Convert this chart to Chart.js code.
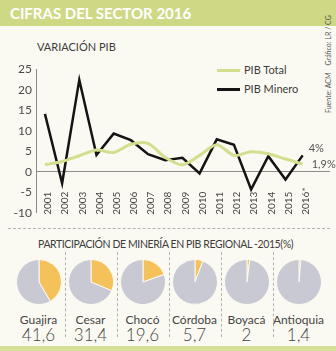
<!DOCTYPE html>
<html>
<head>
<meta charset="utf-8">
<script src="https://cdn.jsdelivr.net/npm/chart.js@4.4.1/dist/chart.umd.min.js"></script>
<style>
  body { margin: 0; width: 336px; height: 351px; background: #fbfaf2; position: relative; overflow: hidden;
         font-family: Lato, "Open Sans", sans-serif; color: #3d3d3d; }
  .abs { position: absolute; }
  .cabecera { left: 0; top: 0; width: 336px; height: 26px; background: #cfd985; }
  .cabecera h1 { margin: 0; position: absolute; left: 10px; top: 4px; font-size: 15px; font-weight: 700;
                 color: #fff; letter-spacing: 0; white-space: nowrap; }
  .subtitulo { font-size: 11px; white-space: nowrap; }
  .leyenda { font-size: 11px; white-space: nowrap; }
  .leyenda span.linea { position: absolute; left: 0; width: 23px; height: 3px; }
  .leyenda span.texto { position: absolute; left: 27px; }
  .creditos { font-size: 7px; color: #555; white-space: nowrap; transform: rotate(-90deg); transform-origin: left top; }
  .punteada { border-top: 1px dashed #b3b3b3; }
  .divisor { border-left: 1px dashed #b3b3b3; }
  .region { width: 52px; text-align: center; white-space: nowrap; color: #454545; }
  .region .nombre { font-size: 12px; line-height: 13px; }
  .region .valor { font-size: 17px; font-weight: 300; line-height: 17px; }
  .pie { width: 46px; height: 46px; }
  .pie-franja { left: 0; top: 346px; width: 336px; height: 5px; background: #d7e098; }
</style>
</head>
<body>
<div class="abs cabecera"><h1>CIFRAS DEL SECTOR 2016</h1></div>
<div class="abs subtitulo" style="left:37px; top:40px;">VARIACIÓN PIB</div>

<div class="abs leyenda" style="left:217px; top:63px;">
  <span class="linea" style="top:6px; background:#d3df8e;"></span><span class="texto">PIB Total</span>
</div>
<div class="abs leyenda" style="left:217px; top:82px;">
  <span class="linea" style="top:6px; background:#141414;"></span><span class="texto">PIB Minero</span>
</div>
<div class="abs creditos" style="left:324px; top:113px;">Fuente: ACM &nbsp;&nbsp; Gráfico: LR / CG</div>

<canvas id="graficoPib" class="abs" width="336" height="166" style="left:0; top:58px;"></canvas>

<div class="abs punteada" style="left:8px; top:228px; width:322px;"></div>
<div class="abs subtitulo" style="left:38px; top:238px; font-size:10.5px; letter-spacing:-0.4px;">PARTICIPACIÓN DE MINERÍA EN PIB REGIONAL -2015(%)</div>
<div id="regiones"></div>
<div class="abs pie-franja"></div>

<script>
// Variación anual del PIB (%)
const anios = [2001, 2002, 2003, 2004, 2005, 2006, 2007, 2008, 2009, 2010, 2011, 2012, 2013, 2014, 2015, 2016];
const etiquetasAnios = ['2001', '2002', '2003', '2004', '2005', '2006', '2007', '2008', '2009', '2010', '2011', '2012', '2013', '2014', '2015', '2016*'];
const pibTotal = [1.7, 2.5, 3.9, 5.3, 4.7, 6.7, 6.9, 3.5, 1.7, 4.0, 6.6, 4.0, 4.9, 4.4, 3.1, 1.9];
const pibMinero = [14.1, -2.8, 22.4, 4.1, 9.3, 7.7, 4.3, 2.8, 3.4, -0.4, 7.9, 6.6, -4.3, 3.8, -1.9, 4.0];
const ticksY = [-10, -5, 0, 5, 10, 15, 20, 25];

// Participación de la minería en el PIB regional 2015 (%)
const regiones = ['Guajira', 'Cesar', 'Chocó', 'Córdoba', 'Boyacá', 'Antioquia'];
const participacion = [41.6, 31.4, 19.6, 5.7, 2, 1.4];

const verdeLinea = '#d3df8e';
const negroLinea = '#141414';

const formatear = v => String(v).replace('.', ',');

// etiquetas de años y valores finales dibujados sobre el área del gráfico
const etiquetasExtra = {
  id: 'etiquetasExtra',
  afterDatasetsDraw(chart) {
    const { ctx, scales: { x, y } } = chart;
    ctx.save();
    ctx.fillStyle = '#444';
    ctx.font = '10px Lato';
    ctx.textAlign = 'left';
    ctx.textBaseline = 'middle';
    anios.forEach((a, i) => {
      ctx.save();
      ctx.translate(x.getPixelForValue(a) + 3, y.bottom + 2);
      ctx.rotate(-Math.PI / 2);
      ctx.fillText(etiquetasAnios[i], 0, 0);
      ctx.restore();
    });
    const ult = anios.length - 1;
    const xFin = x.getPixelForValue(anios[ult]);
    ctx.font = '11px Lato';
    ctx.fillStyle = '#555';
    ctx.fillText(formatear(pibMinero[ult]) + '%', xFin + 6, y.getPixelForValue(pibMinero[ult]) - 7);
    ctx.fillText(formatear(pibTotal[ult]) + '%', xFin + 9, y.getPixelForValue(pibTotal[ult]));
    ctx.restore();
  }
};

new Chart(document.getElementById('graficoPib'), {
  type: 'line',
  data: {
    datasets: [
      {
        label: 'PIB Total',
        data: anios.map((a, i) => ({ x: a, y: pibTotal[i] })),
        borderColor: verdeLinea,
        borderWidth: 3,
        tension: 0.3,
        pointRadius: 0
      },
      {
        label: 'PIB Minero',
        data: anios.map((a, i) => ({ x: a, y: pibMinero[i] })),
        borderColor: negroLinea,
        borderWidth: 2.5,
        tension: 0,
        pointRadius: 0
      }
    ]
  },
  options: {
    responsive: false,
    animation: false,
    layout: { padding: { top: 11, right: 6, bottom: 10, left: 0 } },
    plugins: { legend: { display: false }, tooltip: { enabled: false } },
    scales: {
      x: { type: 'linear', display: false, min: 2000.48, max: 2017.59 },
      y: {
        min: -10, max: 25,
        afterFit: s => { s.width = 36; },
        afterBuildTicks: s => { s.ticks = ticksY.map(v => ({ value: v })); },
        border: { display: true, color: '#8c8c8c', width: 1 },
        grid: { drawTicks: false, color: c => c.tick.value === 0 ? '#8c8c8c' : 'transparent' },
        ticks: { padding: 4, color: '#4a4a4a', font: { family: 'Lato', size: 12 } }
      }
    }
  },
  plugins: [etiquetasExtra]
});

// tortas por región
const contenedor = document.getElementById('regiones');
regiones.forEach((nombre, i) => {
  const cx = 38.5 + i * 52;
  if (i > 0) {
    const d = document.createElement('div');
    d.className = 'abs divisor';
    d.style.cssText = `left:${cx - 26}px; top:252px; height:85px;`;
    contenedor.appendChild(d);
  }
  const lienzo = document.createElement('canvas');
  lienzo.className = 'abs pie';
  lienzo.width = 46; lienzo.height = 46;
  lienzo.style.left = (cx - 23) + 'px';
  lienzo.style.top = '259px';
  contenedor.appendChild(lienzo);

  new Chart(lienzo, {
    type: 'pie',
    data: {
      labels: ['Minería', 'Resto'],
      datasets: [{
        data: [participacion[i], 100 - participacion[i]],
        backgroundColor: ['#f5c15b', '#c9c9d4'],
        borderColor: '#fbfaf2',
        borderWidth: 1
      }]
    },
    options: {
      responsive: false,
      animation: false,
      plugins: { legend: { display: false }, tooltip: { enabled: false } }
    }
  });

  const caja = document.createElement('div');
  caja.className = 'abs region';
  caja.style.left = (cx - 26) + 'px';
  caja.style.top = '313px';
  caja.innerHTML = `<div class="nombre">${nombre}</div><div class="valor">${formatear(participacion[i])}</div>`;
  contenedor.appendChild(caja);
});
</script>
</body>
</html>
